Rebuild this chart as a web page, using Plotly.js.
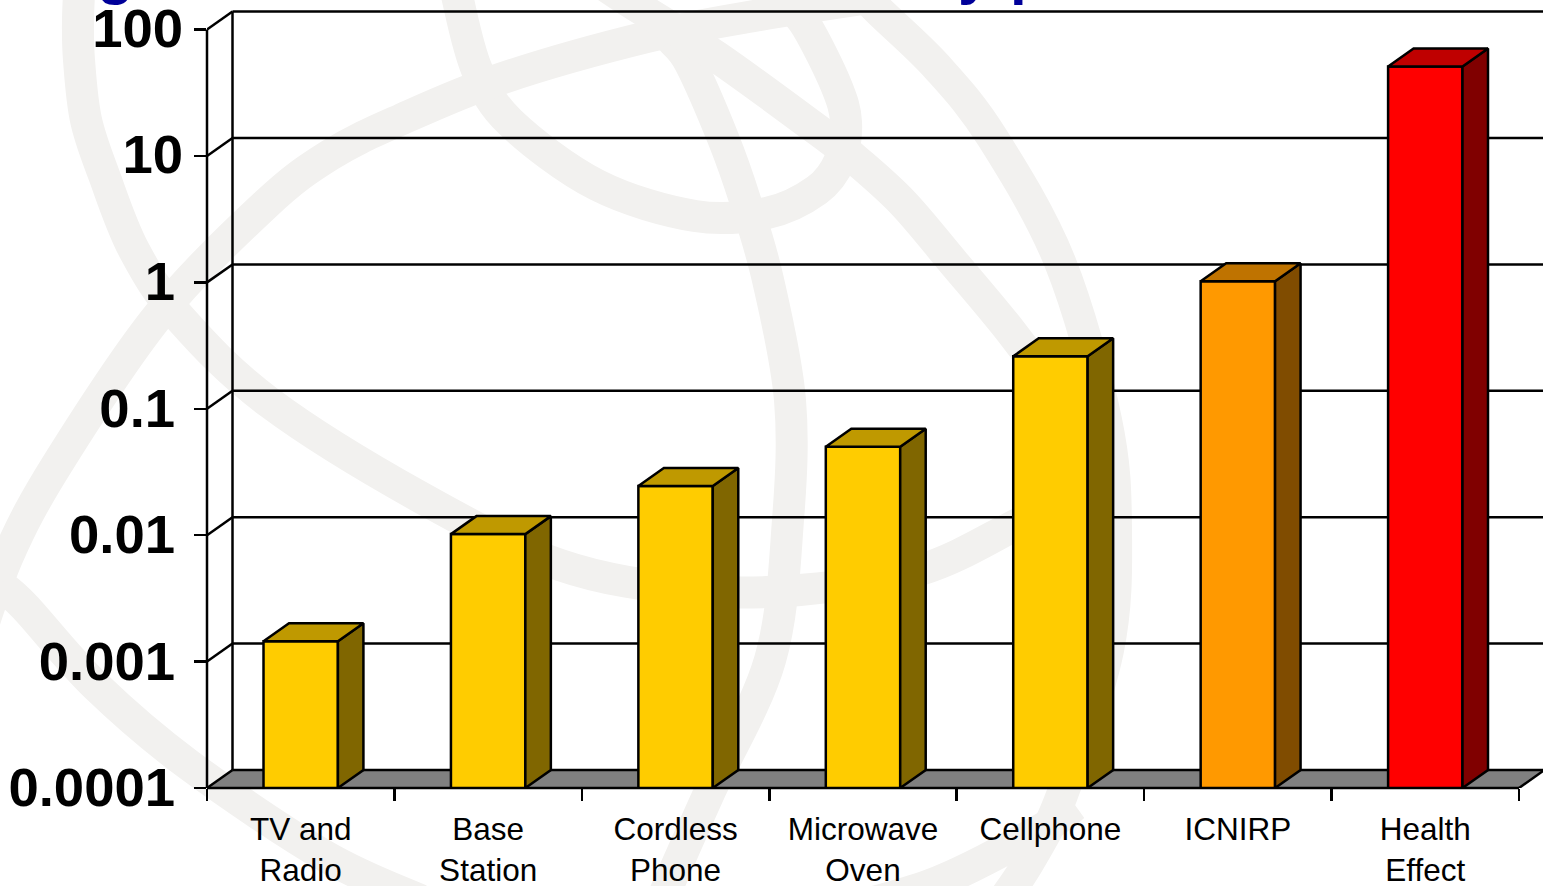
<!DOCTYPE html>
<html>
<head>
<meta charset="utf-8">
<script src="https://cdn.plot.ly/plotly-3.0.1.min.js"></script>
<style>html,body{margin:0;padding:0;background:#fff;overflow:hidden}#chart{width:1543px;height:886px}</style>
</head>
<body>
<div id="chart"></div>
<script>
// Exposure levels on a decade scale, drawn as extruded columns.
const categories = ['TV and<br>Radio', 'Base<br>Station', 'Cordless<br>Phone', 'Microwave<br>Oven', 'Cellphone', 'ICNIRP', 'Health<br>Effect'];
const values = [0.00145, 0.0102, 0.0245, 0.05, 0.26, 1.02, 51];
const frontColors = ['#FFCC00', '#FFCC00', '#FFCC00', '#FFCC00', '#FFCC00', '#FF9900', '#FF0000'];
const topColors = ['#BF9900', '#BF9900', '#BF9900', '#BF9900', '#BF9900', '#BF7300', '#BF0000'];
const sideColors = ['#806600', '#806600', '#806600', '#806600', '#806600', '#804C00', '#800000'];
const lowerTicks = [0.0001, 0.001, 0.01, 0.1, 1];
const lowerLabels = ['0.0001', '0.001', '0.01', '0.1', '1'];
const upperTicks = [10, 100];
const upperLabels = ['10', '100'];
const decadeTicks = lowerTicks.concat(upperTicks);

// Pixel scale of the front plane.
const W = 1543, H = 886;
const LEFT = 207, BOTTOM = 788;
const CAT_PX = 187.43, DECADE_PX = 126.4;
const BAR_WIDTH = 0.397;

// Extrusion depth in axis units.
const DEPTH_X = 25.5 / CAT_PX;
const DEPTH_Y = Math.pow(10, 18 / DECADE_PX);

const xRange = [-0.5, -0.5 + (W - LEFT) / CAT_PX];
const yRange = [-4, -4 + BOTTOM / DECADE_PX];
const xLeft = -0.5, xRight = categories.length - 0.5;
const yMin = decadeTicks[0], yMax = decadeTicks[decadeTicks.length - 1];

// Globe motif behind the plot, as page-pixel waypoints.
const globeArcs = [
  [[80,-25],[78,20],[79,60],[86,120],[104,175],[134,250],[180,318],[270,403],[420,497],[560,565],[690,590],[800,590],[920,570],[1010,528],[1050,505]],
  [[455,-25],[458,0],[477,70],[510,122],[597,185],[695,216],[767,213],[817,190],[840,160],[846,122],[836,85],[807,27],[785,0]],
  [[-25,650],[8,556],[58,463],[158,316],[265,205],[330,155],[400,120],[503,78],[647,37],[760,15],[890,-5]],
  [[672,40],[690,63],[723,138],[745,200],[768,280],[790,400],[788,520],[770,660],[710,791],[674,872],[660,905]],
  [[590,-25],[627,0],[717,57],[827,137],[856,160],[903,203],[953,262],[1012,333],[1060,400],[1100,470]],
  [[850,-20],[878,10],[937,67],[992,137],[1060,262],[1106,420],[1116,530],[1108,650],[1062,795],[1030,860],[1000,905]],
  [[0,585],[25,607],[96,686],[189,765],[325,856],[420,900]],
  [[1075,805],[1040,830],[930,885],[790,923]]
];
const ARC_WIDTH = 32;

const toPaperX = px => (px - LEFT) / (W - LEFT);
const toPaperY = py => (BOTTOM - py) / BOTTOM;

// Catmull-Rom through the waypoints, emitted as cubic Bezier segments.
function arcPath(pts) {
  let d = `M${toPaperX(pts[0][0])},${toPaperY(pts[0][1])}`;
  for (let i = 0; i < pts.length - 1; i++) {
    const p0 = pts[Math.max(i - 1, 0)], p1 = pts[i], p2 = pts[i + 1], p3 = pts[Math.min(i + 2, pts.length - 1)];
    const c1 = [p1[0] + (p2[0] - p0[0]) / 6, p1[1] + (p2[1] - p0[1]) / 6];
    const c2 = [p2[0] - (p3[0] - p1[0]) / 6, p2[1] - (p3[1] - p1[1]) / 6];
    d += ` C${toPaperX(c1[0])},${toPaperY(c1[1])} ${toPaperX(c2[0])},${toPaperY(c2[1])} ${toPaperX(p2[0])},${toPaperY(p2[1])}`;
  }
  return d;
}

const shapes = globeArcs.map(pts => ({
  type: 'path', xref: 'paper', yref: 'paper', layer: 'below', path: arcPath(pts),
  line: {color: '#F2F1EF', width: ARC_WIDTH}
}));

const frameLine = {color: '#000', width: 2.5};

// Floor of the box.
const floorLeft = xLeft + DEPTH_X, floorRight = xRight + DEPTH_X;
shapes.push({
  type: 'path', xref: 'x', yref: 'y', layer: 'below',
  path: `M${xLeft},${yMin} L${floorLeft},${yMin * DEPTH_Y} L${floorRight},${yMin * DEPTH_Y} L${xRight},${yMin} Z`,
  fillcolor: '#808080', line: {color: 'rgba(0,0,0,0)', width: 0}
});

// Back wall lines and the slanted side-wall lines, one per decade.
decadeTicks.forEach(v => {
  const yBack = v * DEPTH_Y;
  shapes.push({type: 'line', xref: 'x', yref: 'y', layer: 'below', x0: floorLeft, x1: xRange[1], y0: yBack, y1: yBack, line: frameLine});
  shapes.push({type: 'line', xref: 'x', yref: 'y', layer: 'below', x0: xLeft, x1: floorLeft, y0: v, y1: yBack, line: frameLine});
});
shapes.push({type: 'line', xref: 'x', yref: 'y', layer: 'below', x0: floorLeft, x1: floorLeft, y0: yMin * DEPTH_Y, y1: yMax * DEPTH_Y, line: frameLine});
shapes.push({type: 'line', xref: 'paper', yref: 'y', layer: 'above', x0: 0, x1: 0, y0: yMin, y1: yMax, line: frameLine});
shapes.push({type: 'line', xref: 'x', yref: 'paper', layer: 'above', x0: xLeft, x1: xRight, y0: 0, y1: 0, line: frameLine});
shapes.push({type: 'line', xref: 'x', yref: 'y', layer: 'above', x0: xRight, x1: floorRight, y0: yMin, y1: yMin * DEPTH_Y, line: frameLine});

const positions = categories.map((_, i) => i);

const frontBars = {
  type: 'bar', x: positions, y: values, width: BAR_WIDTH,
  marker: {color: frontColors, line: {color: '#000', width: 2.5}},
  hoverinfo: 'skip', showlegend: false
};

function facePoly(xs, ys, color) {
  return {
    type: 'scatter', mode: 'lines', x: xs, y: ys, fill: 'toself', fillcolor: color,
    line: {color: '#000', width: 2.5, shape: 'linear'}, hoverinfo: 'skip', showlegend: false
  };
}

const faces = [];
values.forEach((v, i) => {
  const l = i - BAR_WIDTH / 2, r = i + BAR_WIDTH / 2;
  faces.push(facePoly([r, r + DEPTH_X, r + DEPTH_X, r, r], [yMin, yMin * DEPTH_Y, v * DEPTH_Y, v, yMin], sideColors[i]));
  faces.push(facePoly([l, l + DEPTH_X, r + DEPTH_X, r, l], [v, v * DEPTH_Y, v * DEPTH_Y, v, v], topColors[i]));
});

// Keeps the second value axis alive; it only carries the two upper labels.
const upperAxisAnchor = {type: 'scatter', mode: 'none', x: [0], y: [1], yaxis: 'y2', hoverinfo: 'skip', showlegend: false};

const boundaries = categories.map((_, i) => i - 0.5).concat([xRight]);

const valueAxis = {
  type: 'log', range: yRange, zeroline: false, showgrid: false, showline: false,
  tickmode: 'array', ticks: 'outside', ticklen: 12, tickwidth: 2.5, tickcolor: '#000',
  ticklabeloverflow: 'allow',
  tickfont: {family: 'Liberation Sans, Arial, sans-serif', size: 54.5, color: '#000', weight: 700}
};

const layout = {
  width: W, height: H,
  margin: {l: LEFT, r: 0, t: 0, b: H - BOTTOM, pad: 0},
  paper_bgcolor: '#FFFFFF', plot_bgcolor: 'rgba(0,0,0,0)',
  showlegend: false, barmode: 'overlay',
  xaxis: {
    type: 'linear', range: xRange, zeroline: false, showgrid: false, showline: false,
    tickmode: 'array', tickvals: positions, ticktext: categories, tickangle: 0,
    ticks: 'outside', ticklen: 0, tickcolor: '#000', ticklabelstandoff: 13, ticklabeloverflow: 'allow',
    tickfont: {family: 'Liberation Sans, Arial, sans-serif', size: 31.5, color: '#000'},
    minor: {tickmode: 'array', tickvals: boundaries, ticks: 'outside', ticklen: 12, tickwidth: 2.5, tickcolor: '#000', showgrid: false}
  },
  yaxis: Object.assign({}, valueAxis, {tickvals: lowerTicks, ticktext: lowerLabels, ticklabelstandoff: 8, ticklabelshift: -1}),
  yaxis2: Object.assign({}, valueAxis, {tickvals: upperTicks, ticktext: upperLabels, ticklabelstandoff: 0, ticklabelshift: -2, overlaying: 'y', side: 'left', anchor: 'x'}),
  shapes: shapes,
  annotations: [
    {t: 'g', x: 115},
    {t: 'y', x: 975},
    {t: 'p', x: 1028}
  ].map(a => ({
    text: a.t, xref: 'paper', yref: 'paper', x: toPaperX(a.x), y: 1, yanchor: 'bottom', xanchor: 'center',
    yshift: -8, showarrow: false,
    font: {family: 'Liberation Sans, Arial, sans-serif', size: 60, color: '#000099', weight: 700}
  }))
};

Plotly.newPlot('chart', [frontBars].concat(faces, [upperAxisAnchor]), layout, {staticPlot: true, displayModeBar: false});
</script>
</body>
</html>
